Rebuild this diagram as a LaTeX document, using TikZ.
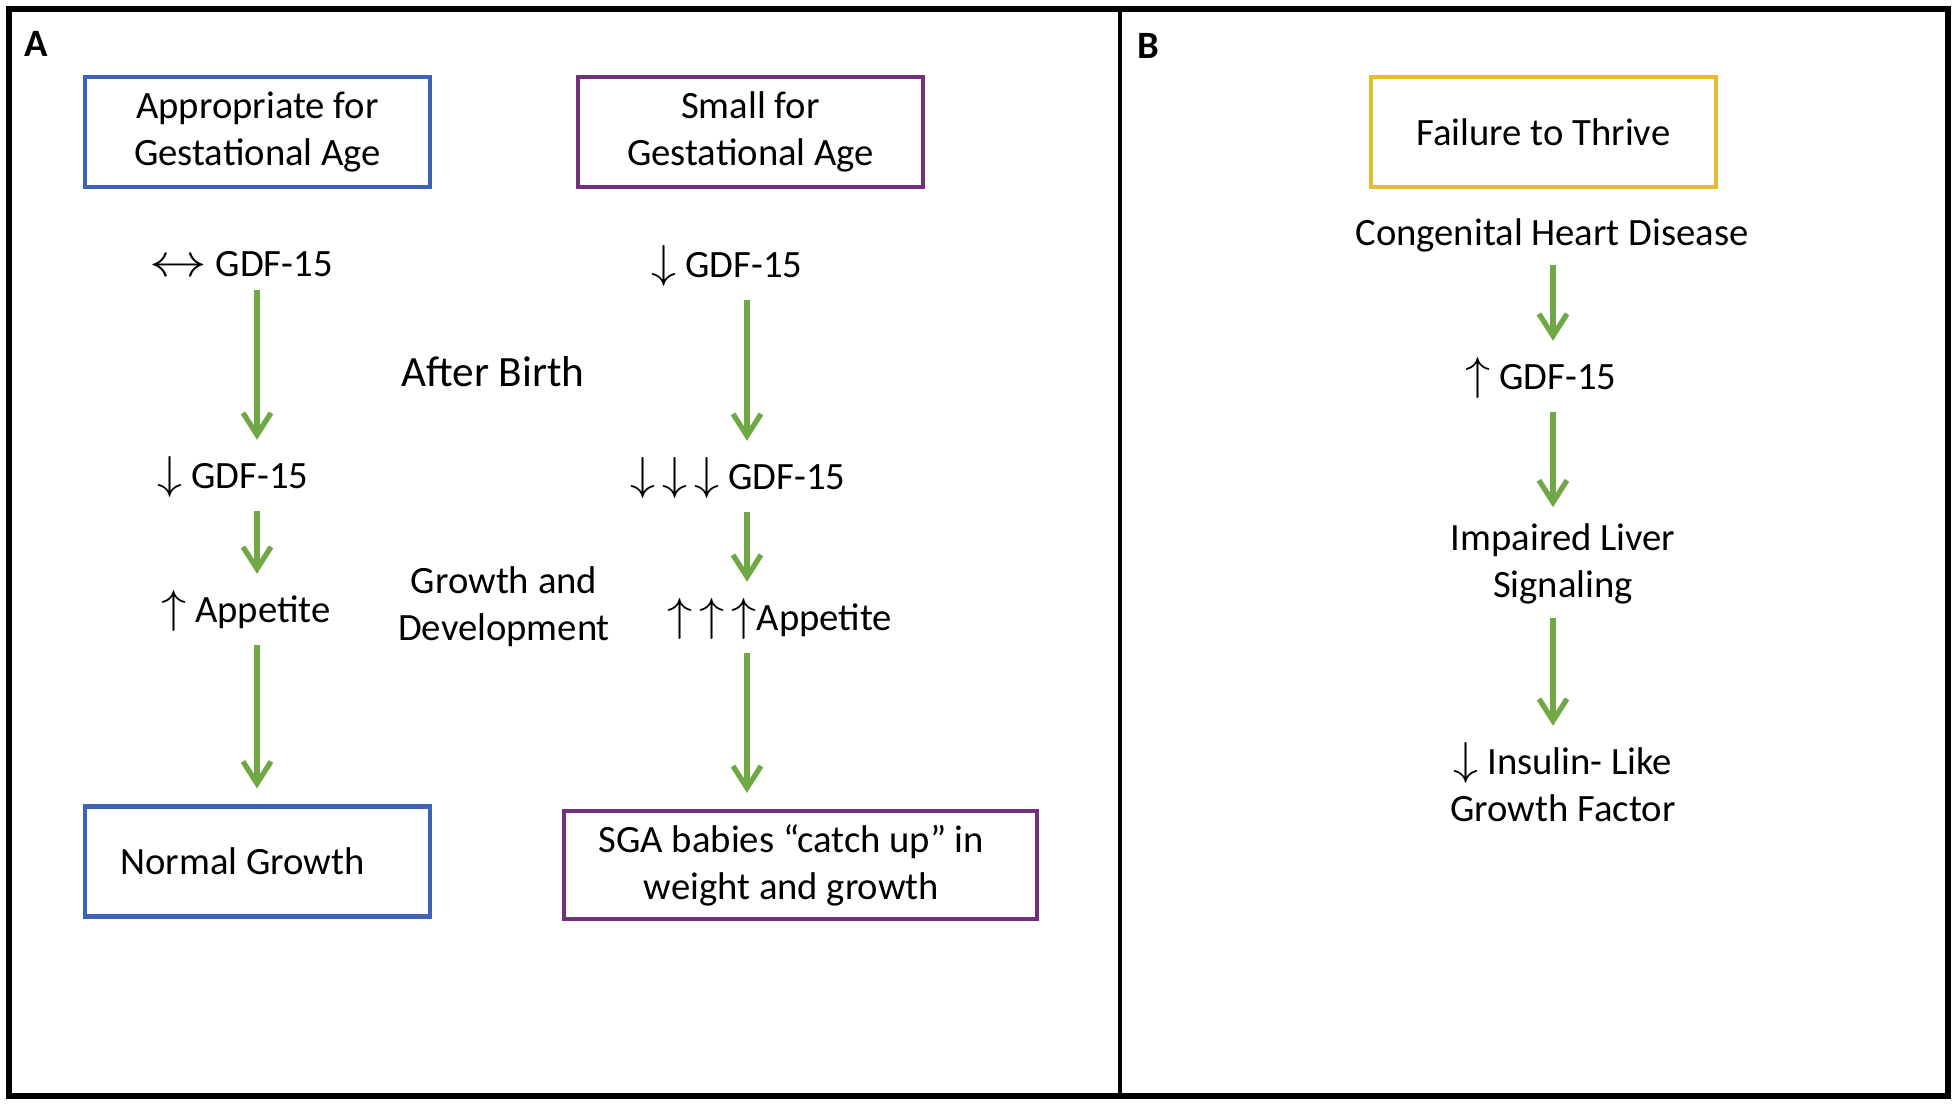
\documentclass[tikz,border=0pt]{standalone}
\usepackage{fontspec}
\setmainfont{Carlito}
\usetikzlibrary{arrows.meta}

\definecolor{agablue}{RGB}{62,98,184}
\definecolor{sgapurple}{RGB}{112,48,122}
\definecolor{fttyellow}{RGB}{228,188,48}
\definecolor{flowgreen}{RGB}{112,168,70}

\newcommand{\arrdn}{\scalebox{1.3}[1.2]{$\downarrow$}}
\newcommand{\arrup}{\scalebox{1.3}[1.2]{$\uparrow$}}
\newcommand{\arrlr}{\scalebox{1.5}[1.2]{$\leftrightarrow$}}

\begin{document}
\begin{tikzpicture}[
    font=\fontsize{11}{13.3}\selectfont,
    box/.style={
        draw,
        line width=1.2pt,
        minimum width=3.45cm,
        minimum height=1.1cm,
        align=center,
        inner sep=2pt
    },
    lbl/.style={align=center, inner sep=0pt},
    flow/.style={
        draw=flowgreen,
        line width=1.5pt,
        -{Straight Barb[length=2.2mm,width=2.8mm]},
        shorten <=0.13cm,
        shorten >=0.16cm
    }
]
\useasboundingbox (0,0) rectangle (19.56,-11.05);

% outer frame and panel divider
\draw[line width=1.7pt] (0.09,-0.09) rectangle (19.48,-10.96);
\draw[line width=1.2pt] (11.20,-0.09) -- (11.20,-10.96);

\node[lbl] (labA) at (0.36,-0.44) {\bfseries A};
\node[lbl] (labB) at (11.48,-0.46) {\bfseries B};

% panel A: appropriate for gestational age
\node[box, draw=agablue] (aga) at (2.575,-1.32) {Appropriate for\\Gestational Age};
\node[lbl] (agaone) at (2.41,-2.64) {\arrlr\ GDF-15};
\node[lbl] (agatwo) at (2.33,-4.77) {\arrdn\ GDF-15};
\node[lbl] (agathree) at (2.46,-6.11) {\arrup\ Appetite};
\node[box, draw=agablue] (normal) at (2.575,-8.615) {Normal Growth\hspace*{0.3cm}};

% panel A: small for gestational age
\node[box, draw=sgapurple] (sga) at (7.505,-1.32) {Small for\\Gestational Age};
\node[lbl] (sgaone) at (7.27,-2.66) {\arrdn\ GDF-15};
\node[lbl] (sgatwo) at (7.38,-4.78) {\arrdn\kern2pt\arrdn\kern2pt\arrdn\ GDF-15};
\node[lbl] (sgathree) at (7.80,-6.19) {\arrup\kern2pt\arrup\kern2pt\arrup Appetite};
\node[box, draw=sgapurple, minimum width=4.73cm, minimum height=1.08cm]
    (catchup) at (8.005,-8.65) {SGA babies “catch up” in\hspace*{0.18cm}\\weight and growth\hspace*{0.18cm}};

\node[lbl, font=\fontsize{12.3}{15}\selectfont] (birth) at (4.93,-3.72) {After Birth};
\node[lbl] (growth) at (5.04,-6.07) {Growth and\\Development};

% panel B
\node[box, draw=fttyellow] (ftt) at (15.435,-1.32) {Failure to Thrive};
\node[lbl] (chd) at (15.52,-2.35) {Congenital Heart Disease};
\node[lbl] (gdfB) at (15.41,-3.78) {\arrup\ GDF-15};
\node[lbl] (liver) at (15.63,-5.64) {Impaired Liver\\Signaling};
\node[lbl] (igf) at (15.63,-7.82) {\arrdn\ Insulin- Like\\Growth Factor};

\coordinate (colA) at (2.57,0);
\coordinate (colS) at (7.47,0);
\coordinate (colB) at (15.53,0);

\foreach \col/\from/\to in {
    colA/agaone/agatwo, colA/agatwo/agathree, colA/agathree/normal,
    colS/sgaone/sgatwo, colS/sgatwo/sgathree, colS/sgathree/catchup,
    colB/chd/gdfB, colB/gdfB/liver, colB/liver/igf}{
    \draw[flow] (\col |- \from.south) -- (\col |- \to.north);
}
\end{tikzpicture}
\end{document}
